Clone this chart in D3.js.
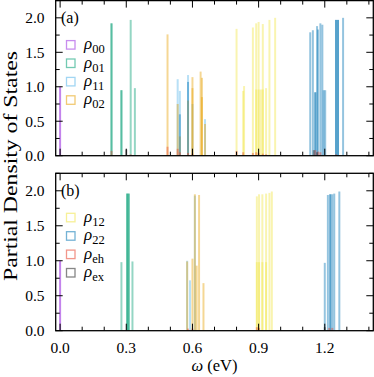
<!DOCTYPE html>
<html><head><meta charset="utf-8">
<script src="https://cdn.jsdelivr.net/npm/d3@7"></script>
<style>body{margin:0;background:#fff}svg{display:block}text{font-family:"Liberation Serif","DejaVu Serif",serif;}</style>
</head><body><svg id="c" width="374" height="377"></svg>
<script>
// ---- data (omega in eV, partial DOS value) ----
const seriesKeys = ["rho00","rho01","rho11","rho02","rho12","rho22","rhoeh","rhoex"];
const seriesSubs = ["00","01","11","02","12","22","eh","ex"];
const seriesColors = ["#9b30e0","#009E73","#56B4E9","#E69F00","#F0E442","#0072B2","#E8402A","#222222"];
const legendA = ["rho00","rho01","rho11","rho02"];
const legendB = ["rho12","rho22","rhoeh","rhoex"];
const xTicks = [0.0,0.3,0.6,0.9,1.2];
const yTicks = [0.0,0.5,1.0,1.5,2.0];

// panel (a)
const a_rho00 = [[0.0,1.0]];
const a_rho01 = [[0.233,1.92],[0.233,1.92],[0.278,0.95],[0.278,0.95],[0.320,1.97],[0.339,0.98]];
const a_rho11 = [[0.533,1.11],[0.543,0.94],[0.580,1.17],[0.600,0.75],[0.657,0.53]];
const a_rho02 = [[0.487,1.76],[0.533,0.75],[0.543,0.28],[0.580,0.80],[0.600,1.14],[0.600,0.98],[0.637,1.22],[0.643,1.13],[0.643,0.85],[0.657,0.46]];
const a_rho12 = [[0.800,1.84],[0.830,0.94],[0.834,1.01],[0.874,1.86],[0.889,1.92],[0.889,0.96],[0.900,1.94],[0.900,0.96],[0.910,0.96],[0.919,1.91],[0.919,0.96],[0.934,0.98],[0.949,1.97],[0.975,2.00]];
const a_rho22 = [[0.543,0.60],[0.580,1.07],[1.134,1.79],[1.146,1.82],[1.157,0.92],[1.157,0.92],[1.165,1.88],[1.169,1.83],[1.180,1.92],[1.189,1.90],[1.195,0.95],[1.202,0.95],[1.251,1.97],[1.251,1.97],[1.260,1.97],[1.260,1.97],[1.283,2.00]];
const a_rhoeh = [[0.233,0.07],[0.320,0.02],[0.487,0.13],[0.533,0.10],[0.543,0.05],[0.580,0.04],[0.600,0.03],[0.800,0.07],[0.830,0.05],[0.874,0.04],[0.889,0.05],[0.900,0.04],[0.919,0.03],[0.934,0.02],[1.157,0.08],[1.170,0.06],[1.180,0.05],[1.251,0.02]];
const a_rhoex = [[0.300,0.09],[1.150,0.08],[1.165,0.05]];

// panel (b)
const b_rho00 = [[0.0,1.0]];
const b_rho01 = [[0.278,0.98],[0.304,1.96],[0.304,1.96],[0.311,1.96],[0.311,1.96],[0.328,0.99]];
const b_rho11 = [[0.576,1.00],[0.589,0.72],[0.611,1.93]];
const b_rho02 = [[0.576,0.99],[0.600,1.03],[0.611,1.95],[0.619,0.93],[0.630,1.94],[0.650,0.68]];
const b_rho12 = [[0.892,1.92],[0.892,0.98],[0.902,1.95],[0.902,0.98],[0.917,1.95],[0.917,0.98],[0.934,1.96],[0.934,0.98],[0.949,1.97],[0.960,1.99]];
const b_rho22 = [[1.200,0.97],[1.214,1.94],[1.225,1.95],[1.225,1.95],[1.234,1.95],[1.243,1.96],[1.266,1.99]];
const b_rhoeh = [[0.311,0.01],[0.580,0.03],[0.600,0.03],[0.892,0.05],[0.902,0.04],[1.220,0.04],[1.234,0.04]];
const b_rhoex = [[1.200,0.05]];

const panelA = {label:"(a)", legend:legendA, data:{rho00:a_rho00,rho01:a_rho01,rho11:a_rho11,rho02:a_rho02,rho12:a_rho12,rho22:a_rho22,rhoeh:a_rhoeh,rhoex:a_rhoex}};
const panelB = {label:"(b)", legend:legendB, data:{rho00:b_rho00,rho01:b_rho01,rho11:b_rho11,rho02:b_rho02,rho12:b_rho12,rho22:b_rho22,rhoeh:b_rhoeh,rhoex:b_rhoex}};

// ---- layout ----
const svg = d3.select("#c");
const L = 55.7, R = 373.3;
const panels = [{p:panelA, top:0.6, bot:155.7},{p:panelB, top:173.3, bot:330.7}];
const x = d3.scaleLinear().domain([-0.02,1.42]).range([L,R]);
const barW = 0.009;
const colorOf = k => seriesColors[seriesKeys.indexOf(k)];
const subOf = k => seriesSubs[seriesKeys.indexOf(k)];

panels.forEach((P,pi)=>{
  const y = d3.scaleLinear().domain([0,2.25]).range([P.bot,P.top]);
  const g = svg.append("g");
  seriesKeys.forEach(k=>{
    g.append("g").selectAll("rect").data(P.p.data[k]).join("rect")
      .attr("x",d=>x(d[0]-barW/2)).attr("width",d=>x(barW)-x(0))
      .attr("y",d=>y(d[1])).attr("height",d=>y(0)-y(d[1]))
      .attr("fill",colorOf(k)).attr("fill-opacity",k==="rho00"?0.6:0.42);
  });
  // frame
  g.append("rect").attr("x",L).attr("y",P.top).attr("width",R-L).attr("height",P.bot-P.top)
    .attr("fill","none").attr("stroke","#000").attr("stroke-width",1.3);
  // ticks
  const xMaj = d3.range(0,1.45,0.3).map(v=>+v.toFixed(2));
  const xMin = d3.range(0,1.42,0.1).map(v=>+v.toFixed(2)).filter(v=>!xMaj.some(m=>Math.abs(m-v)<1e-6));
  const tk = g.append("g").attr("stroke","#000").attr("stroke-width",1);
  xMaj.forEach(v=>{tk.append("line").attr("x1",x(v)).attr("x2",x(v)).attr("y1",P.bot).attr("y2",P.bot-7);
                   tk.append("line").attr("x1",x(v)).attr("x2",x(v)).attr("y1",P.top).attr("y2",P.top+7);});
  xMin.forEach(v=>{tk.append("line").attr("x1",x(v)).attr("x2",x(v)).attr("y1",P.bot).attr("y2",P.bot-4);
                   tk.append("line").attr("x1",x(v)).attr("x2",x(v)).attr("y1",P.top).attr("y2",P.top+4);});
  const yAll = d3.range(0,2.26,0.25);
  yAll.forEach(v=>{const maj = Math.abs(v*2-Math.round(v*2))<1e-6; const len = maj?7:4;
    tk.append("line").attr("x1",L).attr("x2",L+len).attr("y1",y(v)).attr("y2",y(v));
    tk.append("line").attr("x1",R).attr("x2",R-len).attr("y1",y(v)).attr("y2",y(v));});
  yTicks.forEach(v=>{
    g.append("text").attr("x",44.5).attr("y",y(v)).attr("dy","0.35em").attr("text-anchor","end")
      .attr("font-size",15.5).text(v.toFixed(1));
  });
  if(pi===1){
    xTicks.forEach(v=>{
      g.append("text").attr("x",x(v)).attr("y",353).attr("text-anchor","middle").attr("font-size",15.5).text(v.toFixed(1));
    });
  }
  g.append("text").attr("x",61).attr("y",P.top+22.5).attr("font-size",16).text(P.p.label);
  // legend
  P.p.legend.forEach((k,i)=>{
    const cy = P.top + 44.5 + i*18.4;
    g.append("rect").attr("x",66.5).attr("y",cy-4.5).attr("width",8.5).attr("height",8.5)
      .attr("fill","none").attr("stroke",colorOf(k)).attr("stroke-opacity",0.55).attr("stroke-width",1.3);
    const t = g.append("text").attr("x",84).attr("y",cy+4).attr("font-size",17);
    t.append("tspan").attr("font-style","italic").text("ρ");
    t.append("tspan").attr("font-size",12.5).attr("dy",4).text(subOf(k));
  });
});

// axis labels
svg.append("text").attr("transform","translate(17,166) rotate(-90)").attr("text-anchor","middle")
  .attr("font-size",18).attr("textLength",230).attr("lengthAdjust","spacingAndGlyphs").text("Partial Density of States");
const xl = svg.append("text").attr("x",214.5).attr("y",371).attr("text-anchor","middle").attr("font-size",16.5);
xl.append("tspan").attr("font-style","italic").text("ω");
xl.append("tspan").text(" (eV)");
</script></body></html>
